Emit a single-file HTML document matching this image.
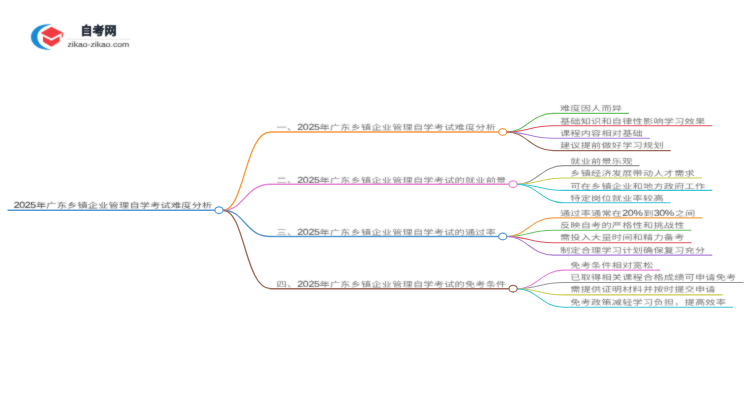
<!DOCTYPE html>
<html lang="zh-CN"><head><meta charset="utf-8"><style>
html,body{margin:0;padding:0;background:#fff;width:750px;height:410px;overflow:hidden}
svg{position:absolute;left:0;top:0;display:block}
#w{position:absolute;left:0;top:0;width:750px;height:410px}
text{font-family:"Liberation Sans",sans-serif;text-rendering:geometricPrecision}
.c{font-size:7.4px;letter-spacing:0.5999999999999996px}
.d{font-size:8.8px;letter-spacing:-0.3060231404958689px}
.r{fill:#555}
.b{fill:#747474}
.l{fill:#747474}
.r.d{fill:#3a3a3a;stroke:#3a3a3a;stroke-width:0.1px}
.b.d,.l.d{fill:#555;stroke:#555;stroke-width:0.08px}
.lg{font-size:12px;font-weight:bold;fill:#1e2833;stroke:#1e2833;stroke-width:0.25px}
.url{font-size:7.5px;fill:#444;stroke:#444;stroke-width:0.08px}
</style></head><body>
<div id="w"><svg width="750" height="410" viewBox="0 0 750 410">
<defs><filter id="bl" x="0" y="0" width="750" height="410" filterUnits="userSpaceOnUse"><feConvolveMatrix order="3" kernelMatrix="1 2 1 2 16 2 1 2 1" divisor="28" edgeMode="duplicate"/></filter></defs>
<g filter="url(#bl)">

<path d="M51.6 24.4 C40 23.2 31 29 31 37 C31 45 40 50.8 51.6 49.6 C43 48.2 37.4 43.5 37.4 37 C37.4 30.5 43 25.8 51.6 24.4 Z" fill="#168ad6"/>
<path d="M40.6 33 L51.4 26.7 L62.6 32.6 L51.4 38.6 Z" fill="#f03a3f"/>
<path d="M43 36.2 L51.4 40.8 L59.7 36.2 V41.8 L51.4 46.7 L43 41.8 Z" fill="#f03a3f"/>
<rect x="61.6" y="32.6" width="1.5" height="4.6" fill="#f03a3f"/>
<text x="80.6" y="35.3" class="lg">自考网</text>
<path d="M65.7 39.2 H130.6" stroke="#dcdcdc" stroke-width="0.7"/>
<text transform="translate(67.4,47.0) scale(1.15,1)" class="url">zikao-zikao.com</text>

<text transform="translate(13.70,208.20) scale(1.21,1)" class="r d">2025</text><text transform="translate(35.90,207.60) scale(1.38,1)" class="r c" style="letter-spacing:0.136px">年广东乡镇企业管理自学考试难度分析</text><text transform="translate(276.50,129.80) scale(1.38,1)" class="b c" style="letter-spacing:0.136px">一、</text><text transform="translate(297.30,130.40) scale(1.21,1)" class="b d">2025</text><text transform="translate(319.50,129.80) scale(1.38,1)" class="b c" style="letter-spacing:0.136px">年广东乡镇企业管理自学考试难度分析</text><text transform="translate(559.90,111.10) scale(1.38,1)" class="l c" style="letter-spacing:0.136px">难度因人而异</text><text transform="translate(559.90,123.50) scale(1.38,1)" class="l c" style="letter-spacing:0.136px">基础知识和自律性影响学习效果</text><text transform="translate(559.90,135.90) scale(1.38,1)" class="l c" style="letter-spacing:0.136px">课程内容相对基础</text><text transform="translate(559.90,148.30) scale(1.38,1)" class="l c" style="letter-spacing:0.136px">建议提前做好学习规划</text><text transform="translate(276.50,182.70) scale(1.38,1)" class="b c" style="letter-spacing:0.136px">二、</text><text transform="translate(297.30,183.30) scale(1.21,1)" class="b d">2025</text><text transform="translate(319.50,182.70) scale(1.38,1)" class="b c" style="letter-spacing:0.136px">年广东乡镇企业管理自学考试的就业前景</text><text transform="translate(570.30,163.90) scale(1.38,1)" class="l c" style="letter-spacing:0.136px">就业前景乐观</text><text transform="translate(570.30,176.30) scale(1.38,1)" class="l c" style="letter-spacing:0.136px">乡镇经济发展带动人才需求</text><text transform="translate(570.30,188.70) scale(1.38,1)" class="l c" style="letter-spacing:0.136px">可在乡镇企业和地方政府工作</text><text transform="translate(570.30,201.10) scale(1.38,1)" class="l c" style="letter-spacing:0.136px">特定岗位就业率较高</text><text transform="translate(276.50,234.60) scale(1.38,1)" class="b c" style="letter-spacing:0.136px">三、</text><text transform="translate(297.30,235.20) scale(1.21,1)" class="b d">2025</text><text transform="translate(319.50,234.60) scale(1.38,1)" class="b c" style="letter-spacing:0.136px">年广东乡镇企业管理自学考试的通过率</text><text transform="translate(559.90,215.60) scale(1.38,1)" class="l c" style="letter-spacing:0.136px">通过率通常在</text><text transform="translate(622.30,216.20) scale(1.21,1)" class="l d">20</text><text transform="translate(633.40,216.20) scale(1.21,1)" class="l d" style="letter-spacing:0.36px">%</text><text transform="translate(643.30,215.60) scale(1.38,1)" class="l c" style="letter-spacing:0.136px">到</text><text transform="translate(653.70,216.20) scale(1.21,1)" class="l d">30</text><text transform="translate(664.80,216.20) scale(1.21,1)" class="l d" style="letter-spacing:0.36px">%</text><text transform="translate(674.70,215.60) scale(1.38,1)" class="l c" style="letter-spacing:0.136px">之间</text><text transform="translate(559.90,228.00) scale(1.38,1)" class="l c" style="letter-spacing:0.136px">反映自考的严格性和挑战性</text><text transform="translate(559.90,240.40) scale(1.38,1)" class="l c" style="letter-spacing:0.136px">需投入大量时间和精力备考</text><text transform="translate(559.90,252.80) scale(1.38,1)" class="l c" style="letter-spacing:0.136px">制定合理学习计划确保复习充分</text><text transform="translate(276.50,286.50) scale(1.38,1)" class="b c" style="letter-spacing:0.136px">四、</text><text transform="translate(297.30,287.10) scale(1.21,1)" class="b d">2025</text><text transform="translate(319.50,286.50) scale(1.38,1)" class="b c" style="letter-spacing:0.136px">年广东乡镇企业管理自学考试的免考条件</text><text transform="translate(570.30,267.50) scale(1.38,1)" class="l c" style="letter-spacing:0.136px">免考条件相对宽松</text><text transform="translate(570.30,279.90) scale(1.38,1)" class="l c" style="letter-spacing:0.136px">已取得相关课程合格成绩可申请免考</text><text transform="translate(570.30,292.30) scale(1.38,1)" class="l c" style="letter-spacing:0.136px">需提供证明材料并按时提交申请</text><text transform="translate(570.30,304.70) scale(1.38,1)" class="l c" style="letter-spacing:0.136px">免考政策减轻学习负担，提高效率</text>
</g>
<path d="M7.5 210.2 H215.0" stroke="#5a9ad2" stroke-width="1.6" fill="none"/><path d="M223.0 210.2 C245.0 210.2 244.7 132.0 270.7 132.0 H498.70000000000005" stroke="#f89c44" stroke-width="1.35" fill="none"/><path d="M506.70 132.0 C526.70 132.0 531.20 113.40 553.20 113.40 H629.10" stroke="#6cc468" stroke-width="1.1" fill="none"/><path d="M506.70 132.0 C526.70 132.0 531.20 125.80 553.20 125.80 H712.30" stroke="#e05660" stroke-width="1.1" fill="none"/><path d="M506.70 132.0 C526.70 132.0 531.20 138.20 553.20 138.20 H649.90" stroke="#ac80dc" stroke-width="1.1" fill="none"/><path d="M506.70 132.0 C526.70 132.0 531.20 150.60 553.20 150.60 H670.70" stroke="#9c6a58" stroke-width="1.1" fill="none"/><path d="M223.0 210.2 C245.0 210.2 244.7 184.2 270.7 184.2 H509.1" stroke="#e98ad8" stroke-width="1.35" fill="none"/><path d="M517.10 184.2 C537.10 184.2 541.60 165.60 563.60 165.60 H639.50" stroke="#999999" stroke-width="1.1" fill="none"/><path d="M517.10 184.2 C537.10 184.2 541.60 178.00 563.60 178.00 H701.90" stroke="#cccc50" stroke-width="1.1" fill="none"/><path d="M517.10 184.2 C537.10 184.2 541.60 190.40 563.60 190.40 H712.30" stroke="#40c4d8" stroke-width="1.1" fill="none"/><path d="M517.10 184.2 C537.10 184.2 541.60 202.80 563.60 202.80 H670.70" stroke="#40c4d8" stroke-width="1.1" fill="none"/><path d="M223.0 210.2 C245.0 210.2 244.7 236.5 270.7 236.5 H498.70000000000005" stroke="#5a9ad2" stroke-width="1.35" fill="none"/><path d="M506.70 236.5 C526.70 236.5 531.20 217.90 553.20 217.90 H702.30" stroke="#f8a048" stroke-width="1.1" fill="none"/><path d="M506.70 236.5 C526.70 236.5 531.20 230.30 553.20 230.30 H691.50" stroke="#6cc468" stroke-width="1.1" fill="none"/><path d="M506.70 236.5 C526.70 236.5 531.20 242.70 553.20 242.70 H691.50" stroke="#e05660" stroke-width="1.1" fill="none"/><path d="M506.70 236.5 C526.70 236.5 531.20 255.10 553.20 255.10 H712.30" stroke="#ac80dc" stroke-width="1.1" fill="none"/><path d="M223.0 210.2 C245.0 210.2 244.7 288.7 270.7 288.7 H509.1" stroke="#a06a5c" stroke-width="1.35" fill="none"/><path d="M517.10 288.7 C537.10 288.7 541.60 270.10 563.60 270.10 H660.30" stroke="#ea88d8" stroke-width="1.1" fill="none"/><path d="M517.10 288.7 C537.10 288.7 541.60 282.50 563.60 282.50 H743.50" stroke="#999999" stroke-width="1.1" fill="none"/><path d="M517.10 288.7 C537.10 288.7 541.60 294.90 563.60 294.90 H722.70" stroke="#cccc50" stroke-width="1.1" fill="none"/><path d="M517.10 288.7 C537.10 288.7 541.60 307.30 563.60 307.30 H733.10" stroke="#40c4d8" stroke-width="1.1" fill="none"/><ellipse cx="502.70" cy="132.0" rx="4.1" ry="3.3" fill="#fff" stroke="#f89c44" stroke-width="1.3"/><ellipse cx="513.10" cy="184.2" rx="4.1" ry="3.3" fill="#fff" stroke="#e98ad8" stroke-width="1.3"/><ellipse cx="502.70" cy="236.5" rx="4.1" ry="3.3" fill="#fff" stroke="#5a9ad2" stroke-width="1.3"/><ellipse cx="513.10" cy="288.7" rx="4.1" ry="3.3" fill="#fff" stroke="#a06a5c" stroke-width="1.3"/><ellipse cx="219.0" cy="210.2" rx="4.1" ry="3.3" fill="#fff" stroke="#5a9fd4" stroke-width="1.3"/>
</svg></div>
</body></html>
